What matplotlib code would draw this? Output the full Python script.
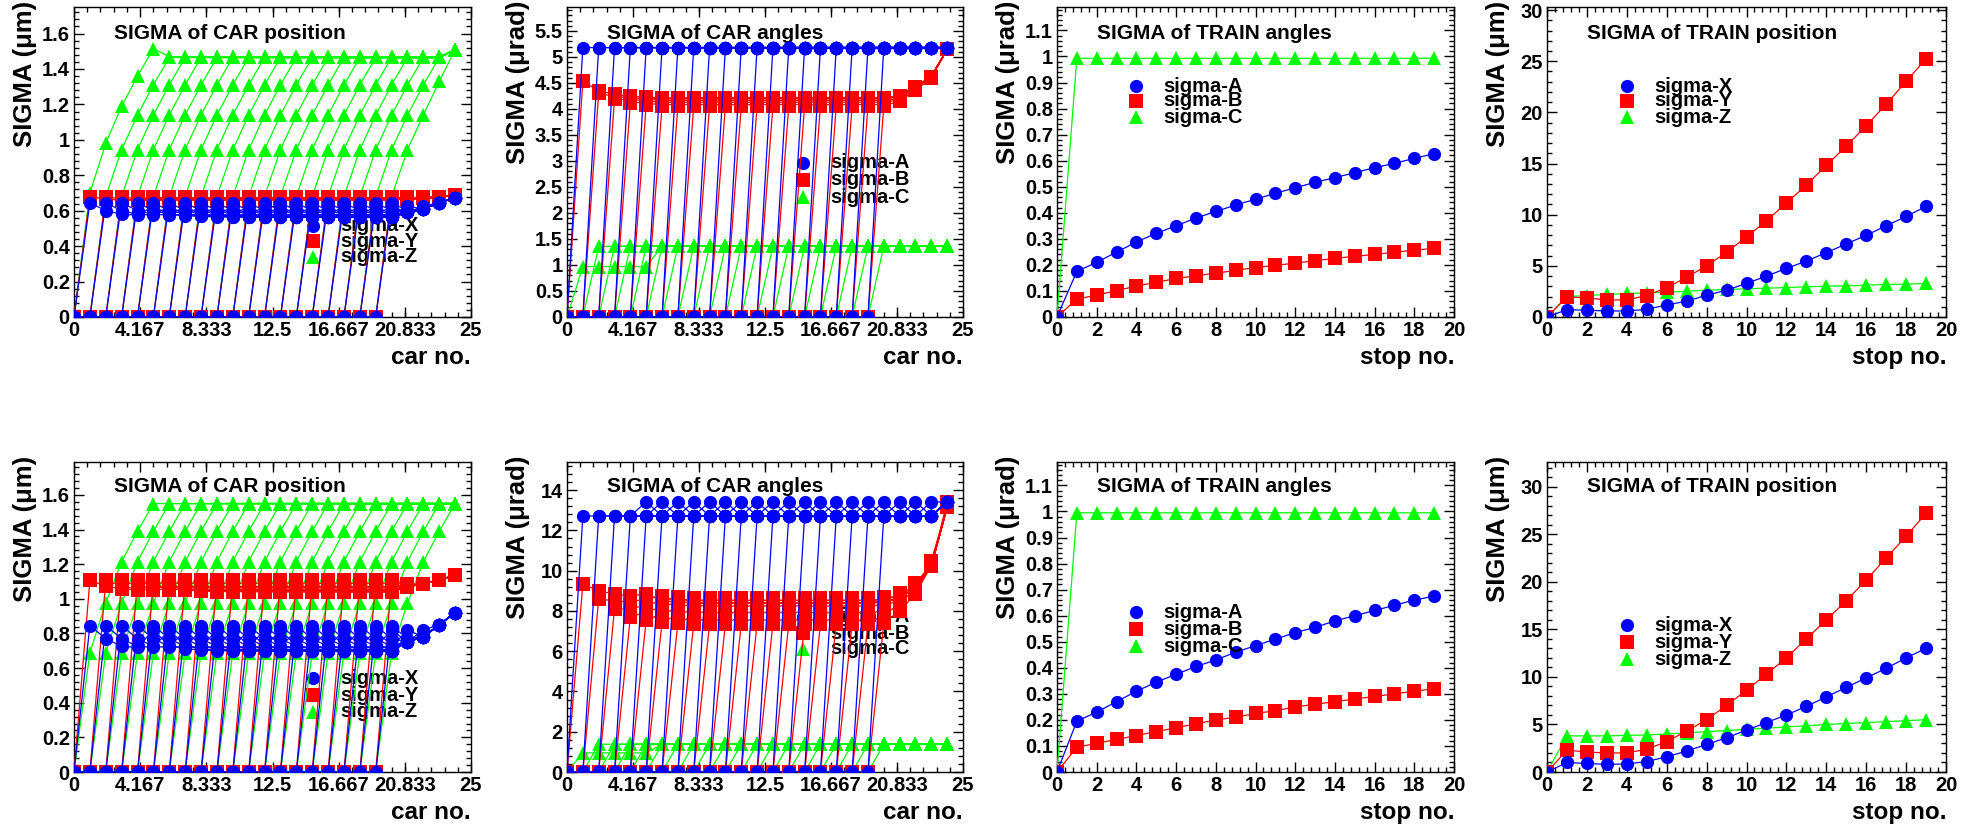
import numpy as np
import matplotlib
matplotlib.use("Agg")
import matplotlib.pyplot as plt
from matplotlib.ticker import MultipleLocator, AutoMinorLocator, FixedLocator, FuncFormatter

plt.rcParams['font.family'] = ['Liberation Sans', 'DejaVu Sans']
plt.rcParams['font.weight'] = 'bold'

W, H = 1971, 825
n_stops = 20
n_cars = 24

# ---- car plots: sigma of car c at stop s, d = c - s cars behind the front
# value = max(base[c] + by_dist[d], tail[c]);  cars up to s are still 0
pos1_x_dist = [0.645, 0.600, 0.580, 0.575, 0.625, 0.578, 0.572, 0.568, 0.565]
pos1_x_tail = [0.590, 0.610, 0.645, 0.672]
pos1_y_dist = [0.680, 0.665, 0.660, 0.658, 0.678, 0.670, 0.667, 0.665]
pos1_y_tail = [0.668, 0.670, 0.678, 0.688]
pos1_z_dist = [0.680, 0.945, 1.140, 1.310, 1.465]
pos1_z_first = [0.700, 0.980, 1.190, 1.360, 1.515, 1.470]
pos1_z_tail = [1.330, 1.510]

ang1_a_dist = [5.18]
ang1_b_base = [4.53, 4.30, 4.19, 4.12, 4.08, 4.06, 4.06, 4.06, 4.06, 4.06, 4.06, 4.06,
               4.06, 4.06, 4.06, 4.06, 4.06, 4.06, 4.06, 4.06, 4.10, 4.27, 4.47, 5.00]
ang1_b_dist = [0.0, 0.05, 0.09, 0.12, 0.15]
ang1_c_dist = [1.36]
ang1_c_first = [0.97, 0.97, 0.97, 0.97, 0.97, 1.36]

pos2_x_dist = [0.845, 0.770, 0.725, 0.720, 0.820, 0.728, 0.712, 0.705, 0.700]
pos2_x_tail = [0.752, 0.780, 0.850, 0.920]
pos2_y_dist = [1.106, 1.075, 1.056, 1.052, 1.085, 1.060, 1.050, 1.045, 1.042]
pos2_y_tail = [1.070, 1.087, 1.110, 1.135]
pos2_z_dist = [0.690, 0.975, 1.215, 1.390, 1.550]

ang2_a_dist = [12.72, 12.72, 12.72, 12.72, 13.42, 12.72]
ang2_a_tail = [13.42]
ang2_b_base = [9.32, 8.60, 8.10, 7.70, 7.55, 7.45, 7.40, 7.35, 7.35, 7.35, 7.35, 7.35,
               7.35, 7.35, 7.35, 7.35, 7.35, 7.35, 7.35, 7.40, 7.60, 8.10, 9.20, 12.12]
ang2_b_dist = [0.0, 0.40, 0.75, 1.05, 1.30, 1.05]
ang2_c_dist = [1.38]
ang2_c_first = [0.95, 0.95, 0.95, 0.95, 0.95, 1.38]

# ---- train plots, one value per stop
stops = np.arange(n_stops)
tr1_a = [0, 0.175, 0.210, 0.249, 0.288, 0.321, 0.350, 0.380, 0.405, 0.430,
         0.452, 0.475, 0.496, 0.517, 0.535, 0.554, 0.573, 0.590, 0.609, 0.627]
tr1_b = [0, 0.069, 0.084, 0.101, 0.119, 0.133, 0.148, 0.158, 0.168, 0.179,
         0.190, 0.198, 0.207, 0.216, 0.225, 0.233, 0.240, 0.249, 0.256, 0.264]
tr1_c = [0] + [0.993] * 19
trpos1_x = [0, 0.72, 0.66, 0.59, 0.59, 0.75, 1.18, 1.54, 2.13, 2.62,
            3.28, 4.00, 4.75, 5.47, 6.29, 7.14, 7.99, 8.91, 9.83, 10.81]
trpos1_y = [0, 1.97, 1.87, 1.67, 1.67, 2.10, 2.88, 3.87, 5.01, 6.32,
            7.83, 9.40, 11.14, 12.91, 14.81, 16.71, 18.68, 20.80, 23.03, 25.23]
trpos1_z = [0, 2.00, 2.10, 2.20, 2.30, 2.36, 2.42, 2.52, 2.62, 2.69,
            2.75, 2.82, 2.88, 2.95, 3.01, 3.05, 3.11, 3.18, 3.21, 3.28]

tr2_a = [0, 0.195, 0.230, 0.270, 0.310, 0.345, 0.375, 0.405, 0.430, 0.460,
         0.485, 0.510, 0.535, 0.555, 0.580, 0.600, 0.620, 0.640, 0.660, 0.675]
tr2_b = [0, 0.095, 0.110, 0.125, 0.140, 0.155, 0.170, 0.185, 0.200, 0.210,
         0.225, 0.235, 0.250, 0.260, 0.270, 0.280, 0.290, 0.300, 0.310, 0.320]
tr2_c = [0] + [0.995] * 19
trpos2_x = [0, 1.00, 0.90, 0.80, 0.85, 1.10, 1.60, 2.20, 2.90, 3.60,
            4.40, 5.20, 6.00, 6.90, 7.90, 8.90, 9.90, 10.90, 12.00, 13.00]
trpos2_y = [0, 2.30, 2.10, 2.00, 2.00, 2.40, 3.20, 4.30, 5.50, 7.00,
            8.60, 10.30, 12.00, 14.00, 16.00, 18.00, 20.20, 22.50, 24.80, 27.20]
trpos2_z = [0, 3.80, 3.80, 3.80, 3.85, 3.90, 4.00, 4.10, 4.25, 4.35,
            4.50, 4.60, 4.75, 4.85, 5.00, 5.10, 5.20, 5.30, 5.40, 5.50]

car_ticks = [0, 4.167, 8.333, 12.5, 16.667, 20.833, 25]
car_ticklabels = ['0', '4.167', '8.333', '12.5', '16.667', '20.833', '25']

BLUE, RED, GREEN = '#0000ff', '#ff0000', '#00ff00'
MS = 9.5
series_style = [(BLUE, 'o'), (RED, 's'), (GREEN, '^')]


def car_curves(by_dist, base=None, tail=None, first=None):
    out = np.zeros((n_stops, n_cars + 1))
    for s in range(n_stops):
        prof = first if (first is not None and s == 0) else by_dist
        for c in range(s + 1, n_cars + 1):
            d = c - s
            v = prof[min(d, len(prof)) - 1]
            if base is not None:
                v += base[c - 1]
            if tail is not None:
                k = c - (n_cars - len(tail) + 1)
                if k >= 0:
                    v = max(v, tail[k])
            out[s, c] = v
    return out


def panel(col, row):
    lefts = [74, 567, 1057, 1547]
    widths = [397, 396, 397, 399]
    tops = [7, 462]
    h = 310
    return fig.add_axes([lefts[col] / W, 1 - (tops[row] + h) / H, widths[col] / W, h / H])


def style(ax, ymax, ystep, xlabel, ylabel, title, car_axis, title_y):
    ax.set_ylim(0, ymax)
    ax.yaxis.set_major_locator(MultipleLocator(ystep))
    ax.yaxis.set_minor_locator(AutoMinorLocator(5))
    ax.yaxis.set_major_formatter(FuncFormatter(lambda v, p: '%g' % round(v, 6)))
    if car_axis:
        ax.set_xlim(0, 25)
        ax.xaxis.set_major_locator(FixedLocator(car_ticks))
        ax.set_xticklabels(car_ticklabels)
        ax.xaxis.set_minor_locator(AutoMinorLocator(5))
    else:
        ax.set_xlim(0, 20)
        ax.xaxis.set_major_locator(MultipleLocator(2))
        ax.xaxis.set_minor_locator(AutoMinorLocator(5))
    ax.tick_params(which='both', direction='in', top=True, right=True, width=1,
                   labelsize=14.5, pad=3)
    ax.tick_params(which='major', length=7)
    ax.tick_params(which='minor', length=3.5)
    for sp in ax.spines.values():
        sp.set_linewidth(1.0)
    ax.text(0.10, title_y, title, transform=ax.transAxes, fontsize=15,
            ha='left', va='center')
    ax.text(1.0, -0.132, xlabel, transform=ax.transAxes, fontsize=17.5,
            ha='right', va='center')
    ax.text(-0.123, 1.02, ylabel, transform=ax.transAxes, fontsize=18.5,
            rotation=90, ha='center', va='top')


def legend(ax, xm, xt, ys, labels, z):
    for (col, mk), lab, y in zip(series_style, labels, ys):
        ax.plot([xm], [y], transform=ax.transAxes, marker=mk, color=col, ms=MS,
                mew=0, ls='none', clip_on=False, zorder=z)
        ax.text(xt, y, lab, transform=ax.transAxes, fontsize=14.5, ha='left',
                va='center', zorder=z)


def draw_cars(ax, curves3):
    cars = np.arange(n_cars + 1)
    for z, ((col, mk), curves) in zip([5, 4, 3], zip(series_style, curves3)):
        for row in curves:
            ax.plot(cars, row, color=col, lw=0.9, marker=mk, ms=MS, mew=0, zorder=z)


def draw_train(ax, vals3):
    for z, ((col, mk), vals) in zip([5, 4, 3], zip(series_style, vals3)):
        ax.plot(stops, vals, color=col, lw=0.9, marker=mk, ms=MS, mew=0, zorder=z)


fig = plt.figure(figsize=(W / 100, H / 100), dpi=100)

xyz = ['sigma-X', 'sigma-Y', 'sigma-Z']
abc = ['sigma-A', 'sigma-B', 'sigma-C']
um = 'SIGMA (\u03bcm)'
urad = 'SIGMA (\u03bcrad)'

for row, (px, py, pz, pz_first, px_tail, py_tail, pz_tail,
          aa, aa_tail, bb_base, bb_dist, cc, cc_first,
          ta, tb, tc, tx, ty, tz) in enumerate([
        (pos1_x_dist, pos1_y_dist, pos1_z_dist, pos1_z_first, pos1_x_tail, pos1_y_tail, pos1_z_tail,
         ang1_a_dist, None, ang1_b_base, ang1_b_dist, ang1_c_dist, ang1_c_first,
         tr1_a, tr1_b, tr1_c, trpos1_x, trpos1_y, trpos1_z),
        (pos2_x_dist, pos2_y_dist, pos2_z_dist, None, pos2_x_tail, pos2_y_tail, None,
         ang2_a_dist, ang2_a_tail, ang2_b_base, ang2_b_dist, ang2_c_dist, ang2_c_first,
         tr2_a, tr2_b, tr2_c, trpos2_x, trpos2_y, trpos2_z)]):
    title_y = 0.916 if row == 0 else 0.922

    # car position
    ax = panel(0, row)
    draw_cars(ax, [car_curves(px, tail=px_tail), car_curves(py, tail=py_tail),
                   car_curves(pz, tail=pz_tail, first=pz_first)])
    style(ax, [1.75, 1.79][row], 0.2, 'car no.', um, 'SIGMA of CAR position', True, title_y)
    legend(ax, 0.602, 0.670, [[0.294, 0.245, 0.194], [0.303, 0.248, 0.194]][row], xyz, 2)

    # car angles
    ax = panel(1, row)
    draw_cars(ax, [car_curves(aa, tail=aa_tail), car_curves(bb_dist, base=bb_base),
                   car_curves(cc, first=cc_first)])
    style(ax, [5.96, 15.4][row], [0.5, 2][row], 'car no.', urad, 'SIGMA of CAR angles', True, title_y)
    legend(ax, 0.596, 0.664, [[0.497, 0.442, 0.387], [0.500, 0.448, 0.397]][row], abc, 2)

    # train angles
    ax = panel(2, row)
    draw_train(ax, [ta, tb, tc])
    style(ax, [1.19, 1.19][row], 0.1, 'stop no.', urad, 'SIGMA of TRAIN angles', False, title_y)
    legend(ax, 0.199, 0.267, [[0.745, 0.697, 0.645], [0.516, 0.461, 0.406]][row], abc, 6)

    # train position
    ax = panel(3, row)
    draw_train(ax, [tx, ty, tz])
    style(ax, [30.3, 32.6][row], 5, 'stop no.', um, 'SIGMA of TRAIN position', False, title_y)
    legend(ax, 0.200, 0.268, [[0.745, 0.697, 0.645], [0.474, 0.419, 0.364]][row], xyz, 6)

fig.savefig('out.png', dpi=100)
